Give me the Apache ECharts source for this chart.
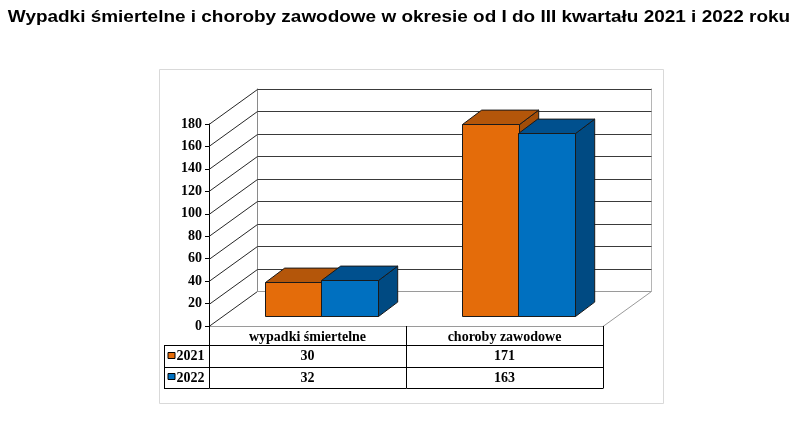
<!DOCTYPE html>
<html><head><meta charset="utf-8">
<script src="https://cdn.jsdelivr.net/npm/echarts@6/dist/echarts.min.js"></script>
<style>html,body{margin:0;padding:0;background:#fff}#c{width:800px;height:426px}</style>
</head><body><div id="c"></div>
<script>
// ---- data ----
const titleText = 'Wypadki śmiertelne i choroby zawodowe w okresie od I do III kwartału 2021 i 2022 roku';
const categories = ['wypadki śmiertelne', 'choroby zawodowe'];
const seriesNames = ['2021', '2022'];
const values2021 = [30, 171];
const values2022 = [32, 163];
const yTicks = [0, 20, 40, 60, 80, 100, 120, 140, 160, 180];

// ---- style ----
const frontColors = ['#E46C0A', '#0070C0'];
const topColors = ['#B4560A', '#00508E'];
const sideColors = ['#A34D08', '#004A82'];
const DEPTH = [48, -36];
const BAR_FRONT = 0.28, BAR_BACK = 0.68, GROUP = 0.57;
const SERIF = '"Liberation Serif","Times New Roman",serif';
const seriesValues = [values2021, values2022];

function barRenderer(si) {
  return function (params, api) {
    const cat = api.value(0), v = api.value(1);
    const base = api.coord([cat, 0]), top = api.coord([cat, v]);
    const band = api.size([1, 0])[0];
    const bw = band * GROUP / 2;
    const x0 = Math.round(base[0] - band * GROUP / 2 + si * bw + DEPTH[0] * BAR_FRONT) + 0.5;
    const x1 = Math.round(x0 + bw) + 0.5;
    const yb = Math.round(base[1] + DEPTH[1] * BAR_FRONT) + 0.5;
    const yt = Math.round(top[1] + DEPTH[1] * BAR_FRONT) + 0.5;
    const ddx = DEPTH[0] * (BAR_BACK - BAR_FRONT), ddy = DEPTH[1] * (BAR_BACK - BAR_FRONT);
    const st = { stroke: '#1a1a1a', lineWidth: 1 };
    return { type: 'group', children: [
      { type: 'polygon', shape: { points: [[x1, yb], [x1 + ddx, yb + ddy], [x1 + ddx, yt + ddy], [x1, yt]] }, style: Object.assign({ fill: sideColors[si] }, st) },
      { type: 'polygon', shape: { points: [[x0, yt], [x0 + ddx, yt + ddy], [x1 + ddx, yt + ddy], [x1, yt]] }, style: Object.assign({ fill: topColors[si] }, st) },
      { type: 'rect', shape: { x: x0, y: yt, width: x1 - x0, height: yb - yt }, style: Object.assign({ fill: frontColors[si] }, st) }
    ] };
  };
}

function wallRenderer(params, api) {
  const cs = params.coordSys;
  const v = api.value(1);
  const y = Math.round(api.coord([0, v])[1]) + 0.5;
  const xl = cs.x, xr = cs.x + cs.width;
  const bxl = Math.round(xl + DEPTH[0]) + 0.5, bxr = Math.round(xr + DEPTH[0]) + 0.5;
  const by = Math.round(y + DEPTH[1]) + 0.5;
  const children = [
    { type: 'line', shape: { x1: xl, y1: y, x2: bxl, y2: by }, style: { stroke: '#262626', lineWidth: 1 } },
    { type: 'line', shape: { x1: bxl, y1: by, x2: bxr, y2: by }, style: { stroke: v === 0 ? '#9a9a9a' : '#3a3a3a', lineWidth: 1 } }
  ];
  if (params.dataIndex === 0) {
    const yTop = Math.round(api.coord([0, yTicks[yTicks.length - 1]])[1] + DEPTH[1]) + 0.5;
    children.push(
      { type: 'line', shape: { x1: bxl, y1: yTop, x2: bxl, y2: by }, style: { stroke: '#8a8a8a', lineWidth: 1 } },
      { type: 'line', shape: { x1: bxr, y1: yTop, x2: bxr, y2: by }, style: { stroke: '#b5b5b5', lineWidth: 1 } },
      { type: 'line', shape: { x1: xr, y1: y, x2: bxr, y2: by }, style: { stroke: '#9a9a9a', lineWidth: 1 } }
    );
  }
  return { type: 'group', children: children };
}

const ROWS = [19, 21.5, 21.5];
const LEG_W = 45;
function tableRenderer(params, api) {
  const cat = api.value(0);
  const c = api.coord([cat, 0]);
  const band = api.size([1, 0])[0];
  const xl = Math.round(c[0] - band / 2) + 0.5, xr = Math.round(c[0] + band / 2) + 0.5;
  const y0 = Math.round(c[1]);
  const y1 = y0 + ROWS[0], y2 = y1 + ROWS[1], y3 = y2 + ROWS[2];
  const ln = (a, b, d, e) => ({ type: 'line', shape: { x1: a, y1: b, x2: d, y2: e }, style: { stroke: '#000', lineWidth: 1 } });
  const txt = (x, y, t) => ({ type: 'text', style: { x: x, y: y, text: t, fill: '#000', font: 'bold 14px ' + SERIF, align: 'center', verticalAlign: 'middle' } });
  const ch = [
    ln(xl, y0, xl, y3), ln(xr, y0, xr, y3),
    ln(xl, Math.round(y1) + 0.5, xr, Math.round(y1) + 0.5),
    ln(xl, Math.round(y2) + 0.5, xr, Math.round(y2) + 0.5),
    ln(xl, Math.round(y3) + 0.5, xr, Math.round(y3) + 0.5),
    txt(c[0], y0 + ROWS[0] / 2 + 2, categories[cat]),
    txt(c[0], (y1 + y2) / 2 + 1, String(api.value(1))),
    txt(c[0], (y2 + y3) / 2 + 1, String(api.value(2)))
  ];
  if (params.dataIndex === 0) {
    const lx = xl - LEG_W;
    ch.push(
      ln(lx, Math.round(y1) + 0.5, xl, Math.round(y1) + 0.5),
      ln(lx, Math.round(y2) + 0.5, xl, Math.round(y2) + 0.5),
      ln(lx, Math.round(y3) + 0.5, xl, Math.round(y3) + 0.5),
      ln(lx, Math.round(y1), lx, Math.round(y3) + 1)
    );
    [[y1, y2], [y2, y3]].forEach((r, i) => {
      const cy = (r[0] + r[1]) / 2;
      ch.push({ type: 'rect', shape: { x: lx + 3.5, y: Math.round(cy - 4) + 0.5, width: 7, height: 6 }, style: { fill: frontColors[i], stroke: '#000', lineWidth: 1 } });
      ch.push({ type: 'text', style: { x: lx + 12, y: cy + 1, text: seriesNames[i], fill: '#000', font: 'bold 14px ' + SERIF, align: 'left', verticalAlign: 'middle' } });
    });
  }
  return { type: 'group', children: ch };
}

const chart = echarts.init(document.getElementById('c'), null, { renderer: 'canvas' });
chart.setOption({
  animation: false,
  backgroundColor: '#fff',
  graphic: [
    { type: 'rect', shape: { x: 159.5, y: 69.5, width: 504, height: 334 }, style: { fill: 'none', stroke: '#d9d9d9', lineWidth: 1 }, z: 0 },
    { type: 'text', x: 399, y: 17.5, scaleX: 1.115, style: { text: titleText, font: 'bold 17px "Liberation Sans", Arial, sans-serif', fill: '#000', align: 'center', verticalAlign: 'middle' } }
  ],
  grid: { left: 209, top: 124, width: 394, height: 202 },
  xAxis: { type: 'category', data: categories, axisLine: { show: true, lineStyle: { color: '#9a9a9a' } }, axisTick: { show: false }, axisLabel: { show: false } },
  yAxis: { type: 'value', min: 0, max: 180, interval: 20,
    axisLine: { show: true, lineStyle: { color: '#000' } },
    axisTick: { show: true, length: 4, lineStyle: { color: '#000' } },
    splitLine: { show: false },
    axisLabel: { color: '#000', fontFamily: SERIF, fontWeight: 'bold', fontSize: 14, margin: 7 } },
  series: [
    { type: 'custom', name: 'walls', renderItem: wallRenderer, data: yTicks.map(v => [0, v]), z: 1, silent: true },
    { type: 'custom', name: seriesNames[0], renderItem: barRenderer(0), data: categories.map((c, i) => [i, values2021[i]]), z: 3 },
    { type: 'custom', name: seriesNames[1], renderItem: barRenderer(1), data: categories.map((c, i) => [i, values2022[i]]), z: 4 },
    { type: 'custom', name: 'table', renderItem: tableRenderer, data: categories.map((c, i) => [i, seriesValues[0][i], seriesValues[1][i]]), z: 5, silent: true }
  ]
});
</script></body></html>
